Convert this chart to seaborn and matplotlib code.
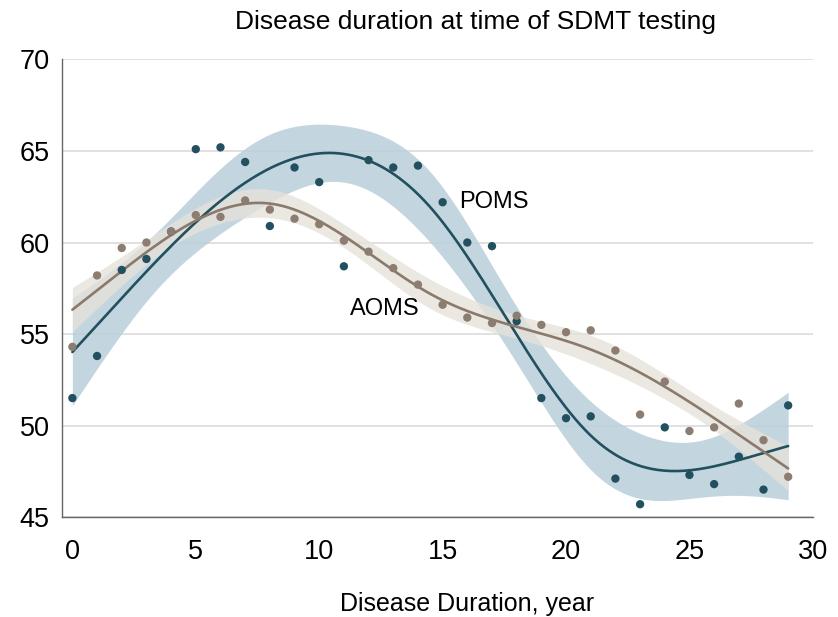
import numpy as np
import pandas as pd
import matplotlib
matplotlib.use("Agg")
import matplotlib.pyplot as plt
import seaborn as sns

# Mean SDMT score by disease duration (years)
duration = list(range(30))
poms_sdmt = [51.5, 53.8, 58.5, 59.1, 60.6, 65.1, 65.2, 64.4, 60.9, 64.1,
             63.3, 58.7, 64.5, 64.1, 64.2, 62.2, 60.0, 59.8, 55.7, 51.5,
             50.4, 50.5, 47.1, 45.7, 49.9, 47.3, 46.8, 48.3, 46.5, 51.1]
aoms_sdmt = [54.3, 58.2, 59.7, 60.0, 60.6, 61.5, 61.4, 62.3, 61.8, 61.3,
             61.0, 60.1, 59.5, 58.6, 57.7, 56.6, 55.9, 55.6, 56.0, 55.5,
             55.1, 55.2, 54.1, 50.6, 52.4, 49.7, 49.9, 51.2, 49.2, 47.2]

groups = ["POMS", "AOMS"]
x_ticks = [0, 5, 10, 15, 20, 25, 30]
y_ticks = [45, 50, 55, 60, 65, 70]

df = pd.DataFrame({
    "duration": duration * 2,
    "sdmt": poms_sdmt + aoms_sdmt,
    "group": ["POMS"] * len(duration) + ["AOMS"] * len(duration),
})


def rcs_design(x, knots):
    """Restricted cubic spline design matrix (Harrell parameterisation)."""
    x = np.asarray(x, float)
    k = np.asarray(knots, float)
    pos = lambda v: np.clip(v, 0, None)
    norm = (k[-1] - k[0]) ** 2
    cols = [np.ones_like(x), x]
    for j in range(len(k) - 2):
        term = (pos(x - k[j]) ** 3
                - pos(x - k[-2]) ** 3 * (k[-1] - k[j]) / (k[-1] - k[-2])
                + pos(x - k[-1]) ** 3 * (k[-2] - k[j]) / (k[-1] - k[-2]))
        cols.append(term / norm)
    return np.column_stack(cols)


def spline_fit(x, y, grid, knots, tcrit=2.06):
    """OLS spline fit with a 95% confidence band for the mean."""
    X = rcs_design(x, knots)
    beta, *_ = np.linalg.lstsq(X, y, rcond=None)
    resid = y - X @ beta
    dof = len(y) - X.shape[1]
    s2 = resid @ resid / dof
    cov = s2 * np.linalg.inv(X.T @ X)
    G = rcs_design(grid, knots)
    fit = G @ beta
    se = np.sqrt(np.einsum("ij,jk,ik->i", G, cov, G))
    return fit, fit - tcrit * se, fit + tcrit * se


sns.set_style("white")
plt.rcParams["font.family"] = ["Liberation Sans", "DejaVu Sans"]
plt.rcParams["text.color"] = "black"
plt.rcParams["axes.labelcolor"] = "black"
plt.rcParams["xtick.color"] = "#666666"
plt.rcParams["ytick.color"] = "#666666"
plt.rcParams["xtick.labelcolor"] = "black"
plt.rcParams["ytick.labelcolor"] = "black"

palette = {"POMS": "#22505f", "AOMS": "#8d7d70"}
band = {"POMS": "#b9cfdb", "AOMS": "#e6e1da"}
line = {"POMS": "#22505f", "AOMS": "#8a7a6c"}
knots = np.percentile(duration, [5, 27.5, 50, 72.5, 95])

fig = plt.figure(figsize=(8.38, 6.17), dpi=100)
ax = fig.add_axes([0.074, 0.162, 0.896, 0.7416])

grid = np.linspace(min(duration), max(duration), 300)
fits = {}
for g in groups:
    sub = df[df["group"] == g]
    fits[g] = spline_fit(sub["duration"].values, sub["sdmt"].values, grid, knots)

# Confidence bands first, then fitted lines and points on top
for g in groups:
    fit, lo, hi = fits[g]
    ax.fill_between(grid, lo, hi, color=band[g], alpha=0.85 if g == "POMS" else 0.8,
                    linewidth=0, zorder=2)
for g in groups:
    fit, lo, hi = fits[g]
    sns.lineplot(x=grid, y=fit, color=line[g], linewidth=1.9, ax=ax, zorder=3)

sns.scatterplot(data=df, x="duration", y="sdmt", hue="group", palette=palette,
                s=36, linewidth=0, legend=False, ax=ax, zorder=4)

ax.text(15.66, 62.2, "POMS", fontsize=17, va="center", ha="left")
ax.text(11.25, 56.35, "AOMS", fontsize=17, va="center", ha="left")

ax.set_xlim(-0.42, 30)
ax.set_ylim(45, 70)
ax.set_xticks(x_ticks)
ax.set_yticks(y_ticks)
ax.tick_params(axis="both", direction="out", length=7, width=1, labelsize=19.5)
ax.tick_params(axis="x", pad=9)
ax.tick_params(axis="y", pad=2)
ax.yaxis.grid(True, color="#dcdcdc", linewidth=1.2)
ax.set_axisbelow(True)
for side in ["top", "right"]:
    ax.spines[side].set_visible(False)
for side in ["left", "bottom"]:
    ax.spines[side].set_color("#666666")
    ax.spines[side].set_linewidth(1)

ax.set_xlabel("Disease Duration, year", fontsize=18, va="center")
ax.xaxis.set_label_coords(0.539, -0.19)
ax.set_ylabel("")
fig.text(0.567, 0.964, "Disease duration at time of SDMT testing",
         fontsize=19, ha="center", va="center")

fig.savefig("out.png", dpi=100)
